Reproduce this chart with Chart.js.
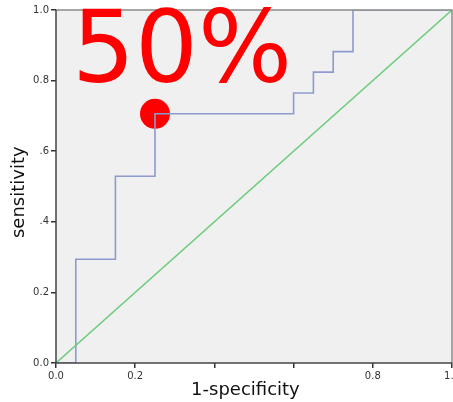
<!DOCTYPE html>
<html>
<head>
<meta charset="utf-8">
<script src="https://cdn.jsdelivr.net/npm/chart.js@4/dist/chart.umd.min.js"></script>
<style>
  html, body { margin: 0; padding: 0; background: #fff; }
  #wrap { width: 453px; height: 402px; }
</style>
</head>
<body>
<div id="wrap"><canvas id="roc"></canvas></div>
<script>
// ROC curve corners (1-specificity, sensitivity)
const fpr = [0, 0.05, 0.05, 0.15, 0.15, 0.25, 0.25, 0.60, 0.60, 0.65, 0.65, 0.70, 0.70, 0.75, 0.75, 1.0];
const tpr = [0, 0, 0.294, 0.294, 0.529, 0.529, 0.706, 0.706, 0.765, 0.765, 0.824, 0.824, 0.882, 0.882, 1.0, 1.0];
const refX = [0, 1];
const refY = [0, 1];
const cutX = [0.25];
const cutY = [0.706];
const xTickLabels = { 0: "0.0", 0.2: "0.2", 0.4: "", 0.6: "", 0.8: "0.8", 1: "1.0" };
const yTickLabels = { 0: "0.0", 0.2: "0.2", 0.4: ".4", 0.6: ".6", 0.8: "0.8", 1: "1.0" };
const bigLabel = "50%";

const toPoints = (xs, ys) => xs.map((x, i) => ({ x: x, y: ys[i] }));
const tickKey = (v) => Math.round(v * 10) / 10;

const panel = {
  id: "panel",
  beforeDatasetsDraw(chart) {
    const { ctx, chartArea: a } = chart;
    ctx.save();
    ctx.fillStyle = "#f0f0f0";
    ctx.fillRect(a.left, a.top, a.right - a.left, a.bottom - a.top);
    ctx.restore();
  },
  afterDatasetsDraw(chart) {
    const { ctx, chartArea: a } = chart;
    ctx.save();
    ctx.lineWidth = 1.5;
    ctx.strokeStyle = "#8a8a8a";
    ctx.beginPath();
    ctx.moveTo(a.left, a.top);
    ctx.lineTo(a.right, a.top);
    ctx.lineTo(a.right, a.bottom);
    ctx.stroke();
    ctx.strokeStyle = "#444";
    ctx.beginPath();
    ctx.moveTo(a.left, a.top);
    ctx.lineTo(a.left, a.bottom);
    ctx.lineTo(a.right, a.bottom);
    ctx.stroke();
    // big label
    ctx.fillStyle = "#ff0000";
    ctx.font = "99px 'DejaVu Sans'";
    ctx.textBaseline = "alphabetic";
    ctx.fillText(bigLabel, 72, 82);
    ctx.restore();
  }
};

new Chart(document.getElementById("roc"), {
  type: "scatter",
  data: {
    datasets: [
      {
        data: toPoints(refX, refY),
        showLine: true,
        borderColor: "#6dcc7c",
        borderWidth: 1.5,
        pointRadius: 0,
      },
      {
        data: toPoints(fpr, tpr),
        showLine: true,
        borderColor: "#8d9ad0",
        borderWidth: 1.6,
        pointRadius: 0,
      },
      {
        data: toPoints(cutX, cutY),
        pointRadius: 15,
        pointBackgroundColor: "#ff0000",
        pointBorderWidth: 0,
        backgroundColor: "#ff0000",
      },
    ],
  },
  options: {
    responsive: true,
    maintainAspectRatio: false,
    animation: false,
    layout: { autoPadding: false, padding: { top: 10, right: 1, left: 0, bottom: 0 } },
    scales: {
      x: {
        type: "linear",
        min: 0,
        max: 1,
        afterFit(s) { s.height = 39; s.paddingLeft = 0; s.paddingRight = 0; },
        ticks: {
          stepSize: 0.2,
          maxRotation: 0,
          color: "#333",
          padding: 2,
          font: { family: "DejaVu Sans", size: 10 },
          callback: (v) => xTickLabels[tickKey(v)],
        },
        grid: { drawOnChartArea: false, tickLength: 5, color: "#333", lineWidth: 1.5 },
        border: { display: false },
        title: {
          display: true,
          text: "1-specificity   ",
          color: "#111",
          font: { family: "DejaVu Sans", size: 18 },
          padding: { top: 0, bottom: 1 },
        },
      },
      y: {
        type: "linear",
        min: 0,
        max: 1,
        afterFit(s) { s.width = 56; s.paddingTop = 0; s.paddingBottom = 0; },
        ticks: {
          stepSize: 0.2,
          color: "#333",
          padding: 2,
          font: { family: "DejaVu Sans", size: 10 },
          callback: (v) => yTickLabels[tickKey(v)],
        },
        grid: { drawOnChartArea: false, tickLength: 5, color: "#333", lineWidth: 1.5 },
        border: { display: false },
        title: {
          display: true,
          text: "sensitivity  ",
          color: "#111",
          font: { family: "DejaVu Sans", size: 18 },
          padding: { top: 9, bottom: 0 },
        },
      },
    },
    plugins: {
      legend: { display: false },
      tooltip: { enabled: false },
    },
  },
  plugins: [panel],
});
</script>
</body>
</html>
